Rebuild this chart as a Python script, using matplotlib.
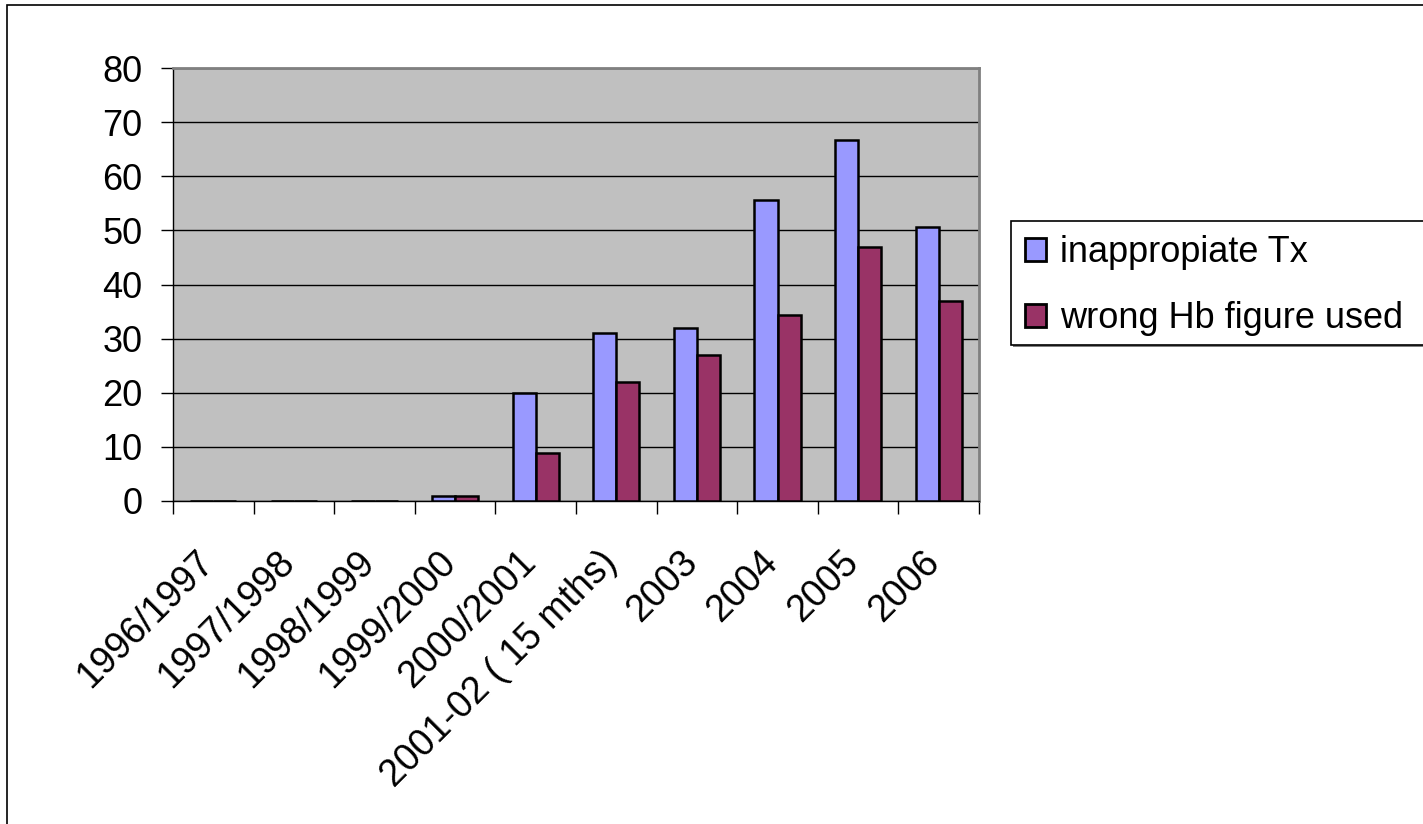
import numpy as np
import matplotlib.pyplot as plt
import matplotlib.transforms as mtransforms
from matplotlib.patches import Rectangle

# Incident counts per year
years = ["1996/1997", "1997/1998", "1998/1999", "1999/2000", "2000/2001",
         "2001-02 ( 15 mths)", "2003", "2004", "2005", "2006"]
inappropriate_tx = [0, 0, 0, 1, 20, 31, 32, 55.7, 66.7, 50.7]
wrong_hb = [0, 0, 0, 1, 8.9, 22, 27, 34.3, 46.9, 37]

plt.rcParams["font.family"] = ["Liberation Sans", "DejaVu Sans"]

W, H = 1423, 824
fig = plt.figure(figsize=(W / 100, H / 100), dpi=100)
ax = fig.add_axes([173 / W, 1 - 501 / H, (979 - 173) / W, (501 - 68) / H])

# outer chart frame, running off the right and bottom edges
fig.patches.append(Rectangle((7 / W, -0.05), 1.1, 1 - 5 / H + 0.05,
                             transform=fig.transFigure, fill=False,
                             edgecolor="black", linewidth=1.2))

x = np.arange(len(years))
w = 1 / 3.5
ax.bar(x - w / 2, inappropriate_tx, w, color="#9999FF", edgecolor="black",
       linewidth=1.8, label="inappropiate Tx", zorder=3)
ax.bar(x + w / 2, wrong_hb, w, color="#993366", edgecolor="black",
       linewidth=1.8, label="wrong Hb figure used", zorder=3)

ax.set_facecolor("#C0C0C0")
ax.set_xlim(-0.5, len(years) - 0.5)
ax.set_ylim(0, 80)
ax.set_yticks(range(0, 81, 10))
ax.yaxis.grid(True, color="black", linewidth=1.0, zorder=1)
ax.tick_params(axis="y", labelsize=26, length=9, width=1, pad=13)

ax.set_xticks(x)
ax.set_xticklabels(years, rotation=45, ha="right", va="center",
                   rotation_mode="anchor", fontsize=27)
ax.tick_params(axis="x", which="major", length=0, pad=40)
ax.set_xticks(np.arange(-0.5, len(years)), minor=True)
ax.tick_params(axis="x", which="minor", length=9, width=1)

# nudge the slanted labels a little to the left
shift = mtransforms.ScaledTranslation(-5 / 100, 0, fig.dpi_scale_trans)
for lbl in ax.get_xticklabels():
    lbl.set_transform(lbl.get_transform() + shift)

for side in ["top", "right"]:
    ax.spines[side].set_color("#808080")
    ax.spines[side].set_linewidth(2)
for side in ["left", "bottom"]:
    ax.spines[side].set_color("black")
    ax.spines[side].set_linewidth(1)

# legend box, cut off by the right edge of the figure
box_x, box_top, box_bot = 1011, 221, 345
fig.patches.append(Rectangle(((box_x + 2) / W, 1 - (box_bot + 2) / H), 0.5,
                             (box_bot - box_top) / H, transform=fig.transFigure,
                             facecolor="#808080", edgecolor="none", zorder=1))
fig.patches.append(Rectangle((box_x / W, 1 - box_bot / H), 0.5,
                             (box_bot - box_top) / H, transform=fig.transFigure,
                             facecolor="white", edgecolor="black",
                             linewidth=1.2, zorder=2))

leg = fig.legend(loc="upper left", bbox_to_anchor=(box_x / W, 1 - box_top / H),
                 fontsize=26, frameon=False,
                 handlelength=0.58, handleheight=0.58, handletextpad=0.39,
                 borderpad=0.39, labelspacing=0.86, borderaxespad=0)
leg.set_zorder(3)
for h in leg.legend_handles:
    h.set_linewidth(2)

fig.savefig("out.png", dpi=100)
